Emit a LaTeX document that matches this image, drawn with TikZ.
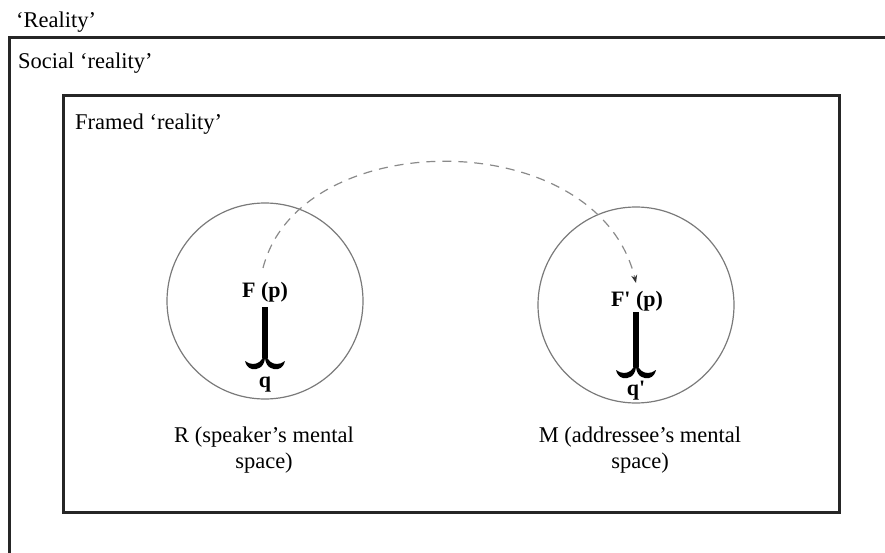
\documentclass[tikz,border=0pt]{standalone}
\usepackage{fontspec}
\setmainfont{Liberation Serif}
\usetikzlibrary{arrows.meta}
\definecolor{framecol}{HTML}{262626}
\definecolor{circcol}{HTML}{7A7A7A}
\definecolor{dashcol}{HTML}{8A8A8A}
\tikzset{
  frameline/.style={line width=3pt, draw=framecol},
  space/.style={circle, draw=circcol, line width=1.2pt, minimum size=196pt, inner sep=0pt},
  txt/.style={inner sep=0pt, font=\fontsize{22.5}{25.5}\selectfont},
  btxt/.style={inner sep=0pt, font=\fontsize{22}{25}\selectfont\bfseries},
  stem/.style={line width=6pt, draw=black},
  flow/.style={draw=dashcol, line width=1.2pt, dash pattern=on 9pt off 7pt, -{Stealth[length=8pt,width=6pt,color=black!80]}},
  forkarms/.pic={
    \fill[black] (0,0) .. controls (-1,10) and (-8,12) .. (-13,11) .. controls (-17,10) and (-19,7) .. (-20,3)
      .. controls (-17,5) and (-15,6) .. (-12,6) .. controls (-7,6) and (-3,3) .. (-1,-3) -- (0,-3) -- cycle;
    \fill[black] (0,0) .. controls (1,10) and (8,12) .. (13,11) .. controls (17,10) and (19,7) .. (20,3)
      .. controls (17,5) and (15,6) .. (12,6) .. controls (7,6) and (3,3) .. (1,-3) -- (0,-3) -- cycle;
  }
}
\begin{document}
\begin{tikzpicture}[x=1pt, y=-1pt]
\useasboundingbox (0,0) rectangle (885,553);
% outer frame (open to the right and bottom)
\draw[frameline] (9,554) -- (9,38) -- (886,38);
% inner frame
\draw[frameline] (63,96) rectangle (839,512);
% texts of frames
\node[txt, anchor=base west] (reality) at (16,28) {‘Reality’};
\node[txt, anchor=base west] (social) at (18,69) {Social ‘reality’};
\node[txt, anchor=base west] (framed) at (75,130) {Framed ‘reality’};
% mental spaces
\node[space] (cR) at (265,301) {};
\node[space] (cM) at (636,305) {};
% left content
\node[btxt, anchor=base] (Fp) at (265,297) {F (p)};
\node[btxt, anchor=base] (q) at (265,387) {q};
\coordinate (jR) at (265,358);
\draw[stem] (265,307) -- (jR);
\pic at (jR) {forkarms};
% right content
\node[btxt, anchor=base] (Fp2) at (637,306) {F\textquotesingle\ (p)};
\node[btxt, anchor=base] (q2) at (636,395) {q\textquotesingle};
\coordinate (jM) at (636,367);
\draw[stem] (636,312) -- (jM);
\pic at (jM) {forkarms};
% labels
\node[txt, anchor=base, align=center] (labR) at (264,468) {R (speaker’s mental\\space)};
\node[txt, anchor=base, align=center] (labM) at (640,468) {M (addressee’s mental\\space)};
% dashed connector
\coordinate (s) at (263,268);
\coordinate (e) at (636,283);
\draw[flow] (s) .. controls (300,124) and (598,124) .. (e);
\end{tikzpicture}
\end{document}
